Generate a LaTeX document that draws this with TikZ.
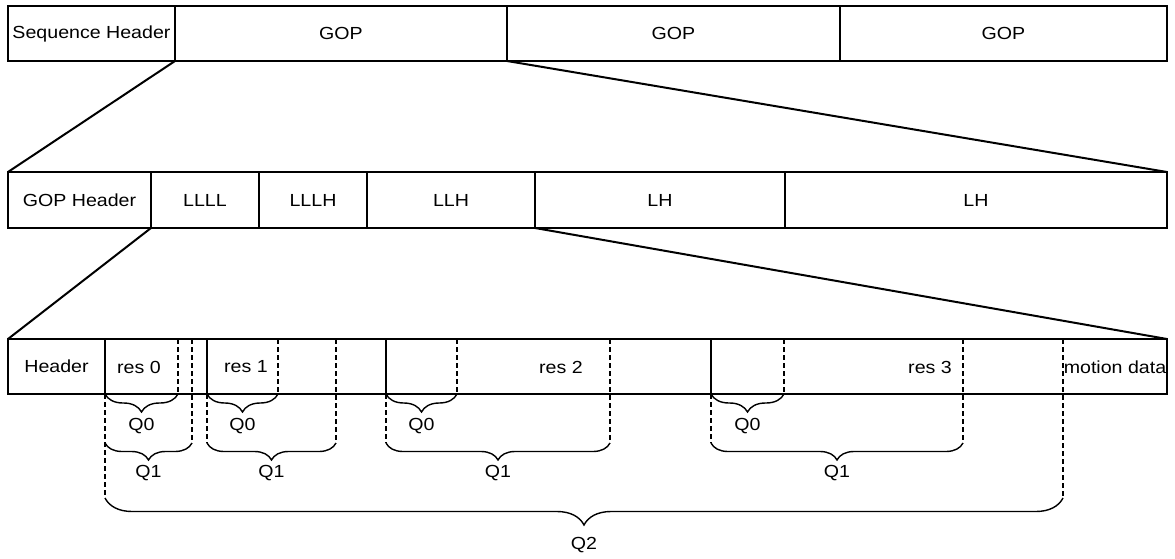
\documentclass[tikz,border=0pt]{standalone}
\usepackage{fontspec}
\setmainfont{Liberation Sans}
\usepackage{graphicx}
\usetikzlibrary{decorations.pathreplacing,calc}
% slightly widened text
\newcommand\wtext[1]{\scalebox{1.12}[1]{#1}}
\begin{document}
\begin{tikzpicture}[x=1pt,y=-1pt,
  every node/.style={font=\fontsize{17.5}{20}\selectfont},
  cell/.style={draw, line width=2pt, anchor=north west, inner sep=0pt,
               outer sep=0pt, minimum width=#1},
  link/.style={line width=2pt},
  cut/.style={line width=2pt, dash pattern=on 5pt off 3pt},
  brc/.style={line width=1.4pt, decorate,
              decoration={brace, mirror, amplitude=#1}},
  lbl/.style={inner sep=0pt}]
\useasboundingbox (0,0) rectangle (1175,559);

% top level: sequence
\begin{scope}[every node/.append style={minimum height=55pt}]
\node[cell=167pt] (seqhdr) at (8,6) {\wtext{Sequence Header}};
\node[cell=332pt] (gop1) at (seqhdr.north east) {\wtext{GOP}};
\node[cell=333pt] (gop2) at (gop1.north east) {\wtext{GOP}};
\node[cell=327pt] (gop3) at (gop2.north east) {\wtext{GOP}};
\end{scope}

% second level: one GOP
\begin{scope}[every node/.append style={minimum height=56pt}]
\node[cell=143pt] (gophdr) at (8,172) {\wtext{GOP Header}};
\node[cell=108pt] (llll) at (gophdr.north east) {\wtext{LLLL}};
\node[cell=108pt] (lllh) at (llll.north east) {\wtext{LLLH}};
\node[cell=168pt] (llh) at (lllh.north east) {\wtext{LLH}};
\node[cell=250pt] (lh1) at (llh.north east) {\wtext{LH}};
\node[cell=382pt] (lh2) at (lh1.north east) {\wtext{LH}};
\end{scope}

% third level: one subband
\begin{scope}[every node/.append style={minimum height=55pt}]
\node[cell=97pt] (hdr3) at (8,339) {\wtext{Header}};
\node[cell=102pt] (r0) at (hdr3.north east) {};
\node[cell=179pt] (r1) at (r0.north east) {};
\node[cell=325pt] (r2) at (r1.north east) {};
\node[cell=456pt] (r3) at (r2.north east) {};
\end{scope}
\node[lbl] (t0) at (139,367) {\wtext{res 0}};
\node[lbl] (t1) at (246,367) {\wtext{res 1}};
\node[lbl] (t2) at (561,367) {\wtext{res 2}};
\node[lbl] (t3) at (930,367) {\wtext{res 3}};
\node[lbl] (tm) at (1115,367) {\wtext{motion data}};

% zoom lines between levels
\draw[link] (seqhdr.south east) -- (gophdr.north west);
\draw[link] (gop1.south east) -- (lh2.north east);
\draw[link] (gophdr.south east) -- (hdr3.north west);
\draw[link] (llh.south east) -- (r3.north east);

% reference points for the quality layer markers
\foreach \n/\x in {a/105, b/178, c/192, d/207, e/278, f/336, g/386,
                   h/457, i/610, j/711, k/784, l/963, m/1063} {
  \coordinate (top-\n) at (\x,339);
  \coordinate (bot-\n) at (\x,394);
  \coordinate (q1-\n) at (\x,443);
  \coordinate (q2-\n) at (\x,498);
}

% dashed layer boundaries
\draw[cut] (bot-a) -- (q2-a);
\draw[cut] (top-b) -- (bot-b);
\draw[cut] (top-c) -- (q1-c);
\draw[cut] (bot-d) -- (q1-d);
\draw[cut] (top-e) -- (bot-e);
\draw[cut] (top-f) -- (q1-f);
\draw[cut] (bot-g) -- (q1-g);
\draw[cut] (top-h) -- (bot-h);
\draw[cut] (top-i) -- (q1-i);
\draw[cut] (bot-j) -- (q1-j);
\draw[cut] (top-k) -- (bot-k);
\draw[cut] (top-l) -- (q1-l);
\draw[cut] (top-m) -- (q2-m);

% Q0 braces
\foreach \s/\e in {a/b, d/e, g/h, j/k} {
  \draw[brc=18pt] (bot-\s) -- (bot-\e);
  \node[lbl] (q0-\s) at ($(bot-\s)!0.5!(bot-\e)+(0,32)$) {\wtext{Q0}};
}
% Q1 braces
\foreach \s/\e in {a/c, d/f, g/i, j/l} {
  \draw[brc=17pt] (q1-\s) -- (q1-\e);
  \node[lbl] (q1l-\s) at ($(q1-\s)!0.5!(q1-\e)+(0,30)$) {\wtext{Q1}};
}
% Q2 brace
\draw[brc=27pt] (q2-a) -- (q2-m);
\node[lbl] (q2l) at ($(q2-a)!0.5!(q2-m)+(0,47)$) {\wtext{Q2}};
\end{tikzpicture}
\end{document}
